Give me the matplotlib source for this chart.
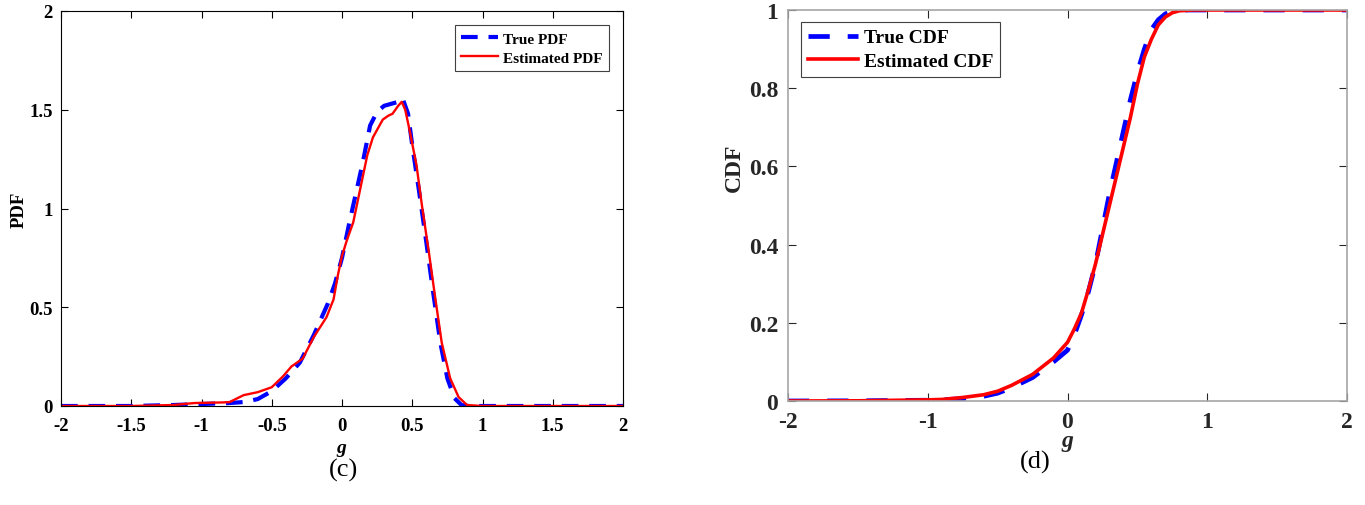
import matplotlib.pyplot as plt

plt.rcParams['font.family'] = 'Liberation Serif'
plt.rcParams['mathtext.fontset'] = 'custom'
plt.rcParams['mathtext.it'] = 'Liberation Serif:italic:bold'
plt.rcParams['axes.unicode_minus'] = False

# PDF (c)
pdf_x_true = [-2, -1.5, -1.2, -1.0, -0.8, -0.7, -0.6, -0.5, -0.4, -0.3, -0.2, -0.1,
              -0.05, 0.0, 0.05, 0.1, 0.15, 0.2, 0.25, 0.3, 0.35, 0.4, 0.43, 0.47,
              0.5, 0.55, 0.6, 0.65, 0.7, 0.75, 0.8, 0.85, 0.9, 1.0, 2.0]
pdf_true = [0, 0, 0.005, 0.01, 0.015, 0.02, 0.035, 0.075, 0.14, 0.22, 0.36, 0.52,
            0.62, 0.75, 0.92, 1.08, 1.24, 1.42, 1.49, 1.52, 1.53, 1.54, 1.56, 1.48,
            1.32, 1.08, 0.83, 0.57, 0.32, 0.14, 0.04, 0.005, 0, 0, 0]

pdf_x_est = [-2, -1.5, -1.2, -1.05, -0.85, -0.8, -0.7, -0.6, -0.5, -0.42, -0.36,
             -0.28, -0.2, -0.11, -0.06, -0.03, 0.0, 0.035, 0.08, 0.13, 0.18, 0.22,
             0.29, 0.33, 0.36, 0.4, 0.425, 0.45, 0.48, 0.53, 0.57, 0.62, 0.665,
             0.71, 0.77, 0.83, 0.89, 1.0, 2.0]
pdf_est = [0, 0, 0.005, 0.015, 0.018, 0.02, 0.055, 0.07, 0.095, 0.15, 0.2,
           0.24, 0.35, 0.45, 0.54, 0.66, 0.76, 0.84, 0.93, 1.1, 1.27, 1.36,
           1.45, 1.47, 1.48, 1.52, 1.54, 1.5, 1.4, 1.22, 1.01, 0.77, 0.54,
           0.32, 0.14, 0.045, 0.005, 0, 0]

# CDF (d)
cdf_x_true = [-2, -1.5, -1.0, -0.9, -0.75, -0.6, -0.5, -0.4, -0.25, -0.1, 0.0, 0.05,
              0.1, 0.15, 0.2, 0.25, 0.3, 0.35, 0.4, 0.45, 0.5, 0.55, 0.6, 0.65,
              0.7, 0.75, 0.8, 0.9, 2.0]
cdf_true = [0, 0.0005, 0.002, 0.003, 0.006, 0.012, 0.02, 0.034, 0.06, 0.1, 0.13, 0.17,
            0.22, 0.28, 0.35, 0.44, 0.53, 0.61, 0.69, 0.77, 0.84, 0.9, 0.95, 0.975,
            0.99, 0.997, 1.0, 1.0, 1.0]

cdf_x_est = [-2, -1.5, -1.0, -0.9, -0.75, -0.6, -0.5, -0.4, -0.25, -0.1, 0.0, 0.05,
             0.1, 0.15, 0.2, 0.25, 0.3, 0.35, 0.4, 0.45, 0.5, 0.55, 0.6, 0.65,
             0.7, 0.75, 0.8, 0.85, 0.9, 2.0]
cdf_est = [0, 0.0005, 0.003, 0.004, 0.009, 0.016, 0.025, 0.04, 0.068, 0.11, 0.15, 0.185,
           0.225, 0.285, 0.35, 0.425, 0.5, 0.575, 0.65, 0.725, 0.81, 0.88, 0.925, 0.962,
           0.982, 0.993, 0.998, 0.999, 1.0, 1.0]

fig = plt.figure(figsize=(13.65, 5.06), dpi=100)
W, H = 1365, 506

# left axes: x 61..623, y 12..407
ax1 = fig.add_axes([61 / W, 1 - 407 / H, (623 - 61) / W, (407 - 12) / H])
ax1.plot(pdf_x_true, pdf_true, color='blue', lw=3, dashes=(4, 2.6), label='True PDF')
ax1.plot(pdf_x_est, pdf_est, color='red', lw=1.7, label='Estimated PDF')
ax1.set_xlim(-2, 2)
ax1.set_ylim(0, 2)
ax1.set_xticks([-2, -1.5, -1, -0.5, 0, 0.5, 1, 1.5, 2])
ax1.set_xticklabels(['-2', '-1.5', '-1', '-0.5', '0', '0.5', '1', '1.5', '2'])
ax1.set_yticks([0, 0.5, 1, 1.5, 2])
ax1.set_yticklabels(['0', '0.5', '1', '1.5', '2'])
ax1.tick_params(direction='in', top=True, right=True, labelsize=13.5, length=5,
                width=0.8, pad=8)
ax1.tick_params(axis='y', pad=6)
for lab in ax1.get_xticklabels() + ax1.get_yticklabels():
    lab.set_fontweight('bold')
ax1.set_xlabel('$g$', fontsize=14, labelpad=5)
ax1.set_ylabel('PDF', fontsize=13.5, fontweight='bold', labelpad=1)
leg1 = ax1.legend(loc='upper right', bbox_to_anchor=(609 / W, 1 - 26 / H),
                  bbox_transform=fig.transFigure, prop={'weight': 'bold', 'size': 11},
                  handlelength=2.4, handletextpad=0.3, borderpad=0.45,
                  labelspacing=0.35, fancybox=False, framealpha=1, borderaxespad=0)
leg1.get_frame().set_edgecolor('#404040')
leg1.get_frame().set_linewidth(0.8)
fig.text(343 / W, 1 - 470 / H, '(c)', fontsize=19, ha='center', va='center')

# right axes: x 788..1347, y 11..402
ax2 = fig.add_axes([788 / W, 1 - 402 / H, (1347 - 788) / W, (402 - 11) / H])
ax2.plot(cdf_x_true, cdf_true, color='blue', lw=3.4, dashes=(4.5, 3.8), label='True CDF')
ax2.plot(cdf_x_est, cdf_est, color='red', lw=2.6, label='Estimated CDF')
ax2.set_xlim(-2, 2)
ax2.set_ylim(0, 1)
ax2.set_xticks([-2, -1, 0, 1, 2])
ax2.set_yticks([0, 0.2, 0.4, 0.6, 0.8, 1])
ax2.set_yticklabels(['0', '0.2', '0.4', '0.6', '0.8', '1'])
ax2.tick_params(direction='in', top=True, right=True, labelsize=17, length=6,
                width=0.8, pad=7, colors='#262626')
for s in ax2.spines.values():
    s.set_color('#a6a6a6')
    s.set_linewidth(1.2)
for lab in ax2.get_xticklabels() + ax2.get_yticklabels():
    lab.set_fontweight('bold')
ax2.set_xlabel('$g$', fontsize=17, labelpad=0, color='#262626')
ax2.set_ylabel('CDF', fontsize=17, fontweight='bold', color='#262626')
ax2.yaxis.set_label_coords(-0.077, 0.6)
leg2 = ax2.legend(loc='upper left', bbox_to_anchor=(801 / W, 1 - 23 / H),
                  bbox_transform=fig.transFigure, prop={'weight': 'bold', 'size': 14},
                  handlelength=2.6, handletextpad=0.3, borderpad=0.35,
                  labelspacing=0.3, fancybox=False, framealpha=1, borderaxespad=0)
leg2.get_frame().set_edgecolor('#404040')
leg2.get_frame().set_linewidth(0.8)
fig.text(1035 / W, 1 - 462 / H, '(d)', fontsize=19, ha='center', va='center')

fig.savefig('out.png', dpi=100)
